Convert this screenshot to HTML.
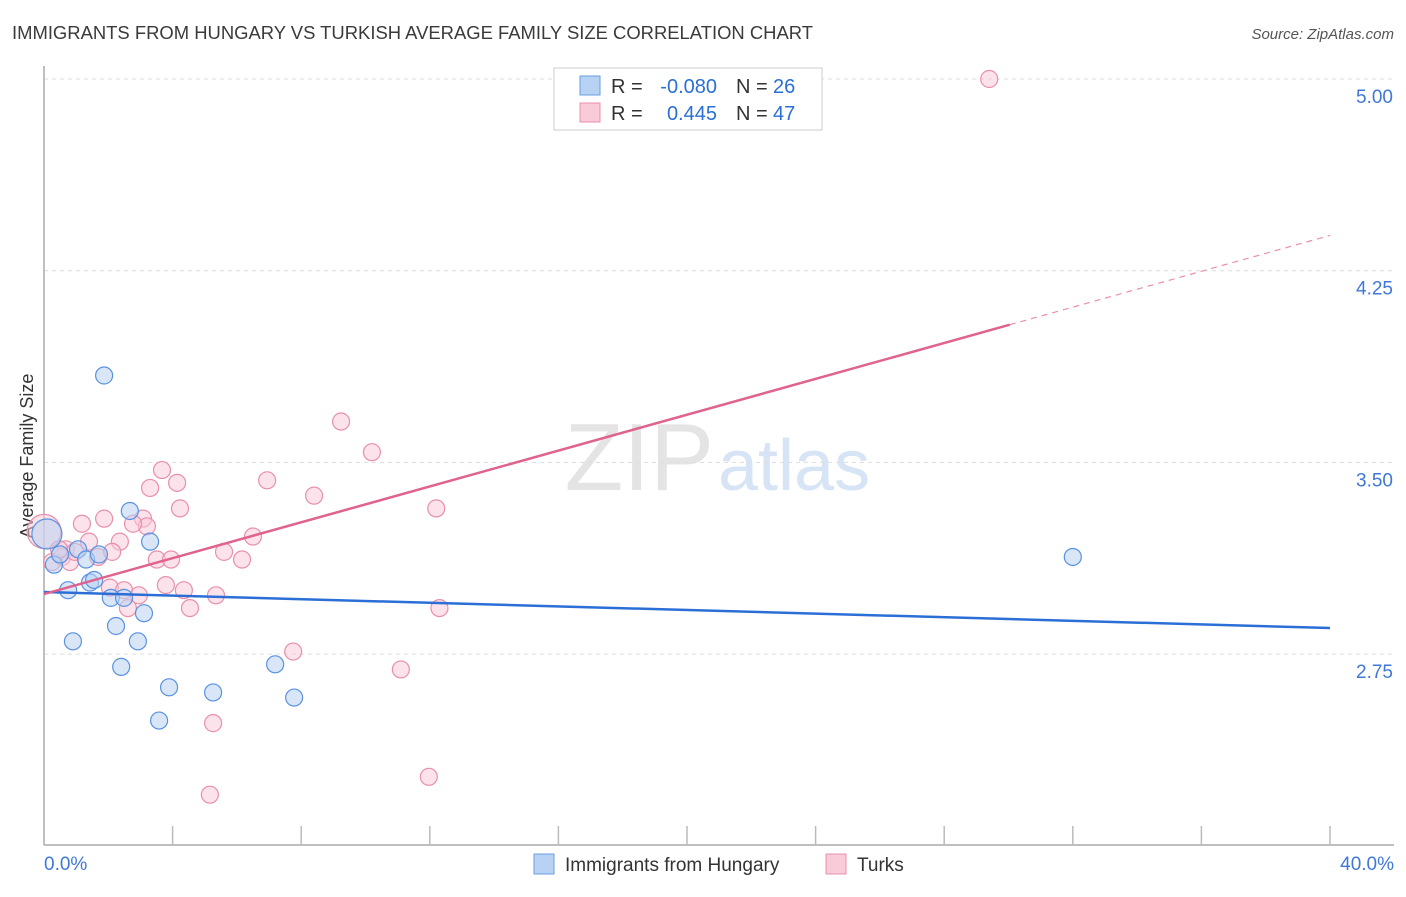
<!DOCTYPE html>
<html><head><meta charset="utf-8"><style>
body{margin:0;background:#fff;font-family:"Liberation Sans",sans-serif}
svg text{font-family:"Liberation Sans",sans-serif}
</style></head><body>
<svg id="chart" width="1406" height="892" xmlns="http://www.w3.org/2000/svg">
<text x="12" y="39" font-size="18" fill="#3a3a3a" textLength="801" lengthAdjust="spacingAndGlyphs">IMMIGRANTS FROM HUNGARY VS TURKISH AVERAGE FAMILY SIZE CORRELATION CHART</text>
<text x="1394" y="39" font-size="15" fill="#555" text-anchor="end" font-style="italic">Source: ZipAtlas.com</text>
<text x="714" y="490" font-size="96" fill="#e4e4e4" text-anchor="end" font-family="Liberation Serif">ZIP</text>
<text x="718" y="490" font-size="72" fill="#d6e4f5">atlas</text>
<text transform="translate(33,456) rotate(-90)" font-size="18" fill="#333" text-anchor="middle">Average Family Size</text>
<g id="grid"></g><g id="axes"></g><g id="pts"></g><g id="lines"></g>
<g>
<rect x="554" y="68" width="268" height="62" fill="#fff" stroke="#ccc"/>
<rect x="580" y="76" width="20" height="19" fill="#b8d2f3" stroke="#6a9ee0"/>
<text x="611" y="93" font-size="20" fill="#333">R =</text>
<text x="717" y="93" font-size="20" fill="#2a6fd6" text-anchor="end">-0.080</text>
<text x="736" y="93" font-size="20" fill="#333">N =</text>
<text x="773" y="93" font-size="20" fill="#2a6fd6">26</text>
<rect x="580" y="103" width="20" height="19" fill="#f9cad8" stroke="#e890aa"/>
<text x="611" y="120" font-size="20" fill="#333">R =</text>
<text x="717" y="120" font-size="20" fill="#2a6fd6" text-anchor="end">0.445</text>
<text x="736" y="120" font-size="20" fill="#333">N =</text>
<text x="773" y="120" font-size="20" fill="#2a6fd6">47</text>
</g>
<g>
<rect x="534" y="854" width="20" height="20" fill="#b8d2f3" stroke="#6a9ee0"/>
<text x="565" y="871" font-size="19" fill="#333">Immigrants from Hungary</text>
<rect x="826" y="854" width="20" height="20" fill="#f9cad8" stroke="#e890aa"/>
<text x="857" y="871" font-size="19" fill="#333">Turks</text>
</g>
</svg>
<script>
const yTicks=[5.00,4.25,3.50,2.75];
const yTickLabels=["5.00","4.25","3.50","2.75"];
const xTicks=[0,4,8,12,16,20,24,28,32,36,40];
const xEndLabels=["0.0%","40.0%"];
const hungaryX=[0.09,0.31,0.50,0.75,0.90,1.06,1.31,1.43,1.56,1.71,1.87,2.08,2.24,2.40,2.49,2.67,2.92,3.11,3.30,3.58,3.89,5.26,7.19,7.78,32.0];
const hungaryY=[3.22,3.10,3.14,3.00,2.80,3.16,3.12,3.03,3.04,3.14,3.84,2.97,2.86,2.70,2.97,3.31,2.80,2.91,3.19,2.49,2.62,2.60,2.71,2.58,3.13];
const turksX=[29.4,9.24,10.2,3.67,4.14,3.30,6.94,8.40,4.23,12.2,1.18,1.87,3.08,3.20,2.77,6.50,2.36,1.40,0.68,0.56,1.68,0.81,0.25,3.51,3.95,5.60,6.16,2.05,2.49,2.95,3.79,4.35,5.35,2.61,4.54,12.3,7.75,11.1,5.26,11.97,5.16,0.0,0.96,2.12,0.47];
const turksY=[5.00,3.66,3.54,3.47,3.42,3.40,3.43,3.37,3.32,3.32,3.26,3.28,3.28,3.25,3.26,3.21,3.19,3.19,3.16,3.13,3.13,3.11,3.11,3.12,3.12,3.15,3.12,3.01,3.00,2.98,3.02,3.00,2.98,2.93,2.93,2.93,2.76,2.69,2.48,2.27,2.20,3.23,3.15,3.15,3.16];
const hungaryFit=[2.993,2.852];
const turksFit=[2.985,4.388];
const X=v=>44+v/40*1286, Y=v=>79+(5-v)*255.6;
const NS="http://www.w3.org/2000/svg";
function mk(t,a,p){const e=document.createElementNS(NS,t);for(const k in a)e.setAttribute(k,a[k]);p.appendChild(e);return e;}
const g=document.getElementById('grid'),ax=document.getElementById('axes'),pts=document.getElementById('pts'),ln=document.getElementById('lines');
yTicks.forEach((v,i)=>{
 const l=mk('line',{x1:44,x2:1394,y1:Y(v),y2:Y(v),stroke:'#ddd','stroke-dasharray':'4,4'},g);
 
 
 const t=mk('text',{x:1393,y:Y(v)+24,'font-size':19,fill:'#3f78d8','text-anchor':'end'},ax);t.textContent=yTickLabels[i];
 
 
});
const a1=mk('line',{x1:44,x2:44,y1:66,y2:845,stroke:'#aaa','stroke-width':1.5},ax);


const a2=mk('line',{x1:44,x2:1394,y1:845,y2:845,stroke:'#aaa','stroke-width':1.5},ax);


xTicks.forEach(v=>{if(v===0)return;const t=mk('line',{x1:X(v),x2:X(v),y1:826,y2:845,stroke:'#bbb','stroke-width':1.5},ax);
 
 });
[[0,'start',44],[40,'end',1394]].forEach((d,i)=>{const t=mk('text',{x:d[2],y:870,'font-size':19,fill:'#3f78d8','text-anchor':d[1]},ax);t.textContent=xEndLabels[i];
 
 });
turksX.forEach((x,i)=>{const c=mk('circle',{cx:X(x),cy:Y(turksY[i]),r:i==41?17:8.5,fill:'#f9cad8','fill-opacity':0.55,stroke:'#e890aa','stroke-width':1.2},pts);
 
 });
hungaryX.forEach((x,i)=>{const c=mk('circle',{cx:X(x),cy:Y(hungaryY[i]),r:i==0?15:8.5,fill:'#b8d2f3','fill-opacity':0.55,stroke:'#5a92e0','stroke-width':1.2},pts);
 
 });
const bl=mk('line',{x1:X(0),y1:Y(hungaryFit[0]),x2:X(40),y2:Y(hungaryFit[1]),stroke:'#2b6fd6','stroke-width':2.5},ln);


const xs=30.04, ys=turksFit[0]+(turksFit[1]-turksFit[0])*xs/40;
const pl=mk('line',{x1:X(0),y1:Y(turksFit[0]),x2:X(xs),y2:Y(ys),stroke:'#e0628e','stroke-width':2.5},ln);


const pd=mk('line',{x1:X(xs),y1:Y(ys),x2:X(40),y2:Y(turksFit[1]),stroke:'#e890aa','stroke-width':1.2,'stroke-dasharray':'6,5'},ln);


</script>
</body></html>
